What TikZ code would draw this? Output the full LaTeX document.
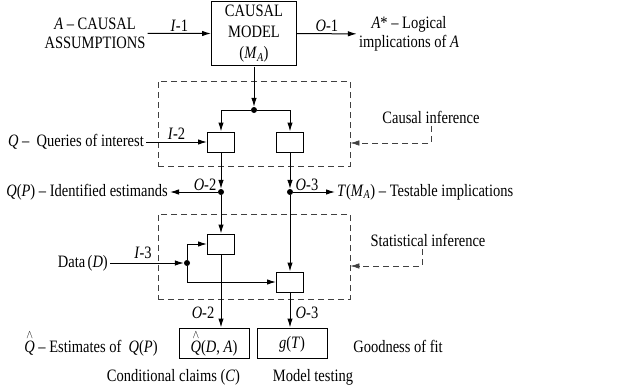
\documentclass[tikz,border=0pt]{standalone}
\usepackage{fontspec}
\setmainfont{Liberation Serif}
\usetikzlibrary{arrows.meta, positioning, calc}
\newcommand{\iv}[1]{\textit{#1}}
\newcommand{\qhat}{$\stackrel{\wedge}{\mbox{\textit{Q}}}$}
\tikzset{
  blk/.style   = {draw, line width=1pt, minimum width=27pt, minimum height=20pt, inner sep=0pt},
  obox/.style  = {draw, line width=1pt, minimum width=70pt, minimum height=30pt, inner sep=0pt},
  dbox/.style  = {draw=black!75, dash pattern=on 6pt off 4pt, line width=0.7pt, minimum width=192pt,
                  minimum height=85pt, inner sep=0pt},
  dot/.style   = {circle, fill, inner sep=0pt, minimum size=6pt},
  arr/.style   = {-{Latex[length=9pt,width=5.5pt]}, line width=1pt},
  darr/.style  = {-{Latex[length=9pt,width=5.5pt]}, draw=black!75,
                  dash pattern=on 6pt off 4pt, line width=0.7pt},
  tx/.style    = {yscale=1.2},
  io/.style    = {inner sep=1.5pt, yscale=1.2},
}

\begin{document}
\begin{tikzpicture}[x=1pt, y=-1pt, every node/.style={font=\fontsize{14.5}{19}\selectfont, inner sep=2pt}]
  \useasboundingbox (0,0) rectangle (640,388);
  % top row
  \node[draw, line width=1pt, minimum width=85pt, minimum height=54pt, align=center, tx,
        font=\fontsize{14.5}{17.5}\selectfont] (model) at (254,33.5) {CAUSAL\\MODEL\\(\iv{M}\textsubscript{\iv{A}})};
  \node[align=center, tx, font=\fontsize{14.5}{16}\selectfont] (assump) at (95,33.5) {\iv{A} -- CAUSAL\\ASSUMPTIONS};
  \node[align=center, tx, font=\fontsize{14.5}{16}\selectfont] (impl) at (409,34) {\iv{A}* -- Logical\\implications of \iv{A}};
  \draw[arr] (assump) -- node[above, io] {\iv{I}-1} (model);
  \draw[arr] (model) -- node[above, io] {\iv{O}-1} (impl);

  % causal inference
  \node[dbox] (ci) at (254,123.5) {};
  \node[dot] (d0) at (254,110) {};
  \node[blk] (c1) at (221,142) {};
  \node[blk] (c2) at (290,142) {};
  \draw[arr] (model) -- (d0);
  \draw[arr] (d0) -| (c1);
  \draw[arr] (d0) -| (c2);
  \node[anchor=east, tx] (queries) at (146,142) {\iv{Q} --\ \ Queries of interest};
  \draw[arr] (queries) -- node[above, io] {\iv{I}-2} (c1);
  \node[tx] (cinf) at (431,117) {Causal inference};
  \draw[darr] (cinf.south) |- ([yshift=-19.5pt]ci.east);

  % outputs of first stage
  \node[dot] (e1) at (221,192) {};
  \node[dot] (e2) at (290,192) {};
  \draw[arr] (c1) -- (e1);
  \draw[arr] (c2) -- (e2);
  \node[anchor=east, tx] (estim) at (170,192) {\iv{Q}(\iv{P}) -- Identified estimands};
  \node[anchor=west, tx] (testable) at (335,192) {\iv{T}(\iv{M}\textsubscript{\iv{A}}) -- Testable implications};
  \draw[arr] (e1) -- (estim);
  \draw[arr] (e2) -- (testable);
  \node[anchor=base east, io] (lo2) at (218,190) {\iv{O}-2};
  \node[anchor=base west, io] (lo3) at (294,190) {\iv{O}-3};

  % statistical inference
  \node[dbox] (si) at (254,256.5) {};
  \node[blk] (s1) at (221,244) {};
  \node[blk] (s2) at (290,282) {};
  \node[dot] (d3) at (187,263) {};
  \draw[arr] (e1) -- (s1);
  \draw[arr] (e2) -- (s2);
  \node[anchor=east, tx] (data) at (110,263) {Data\,(\iv{D})};
  \draw[arr] (data) -- (d3);
  \node[anchor=base, io] (li3) at (143,258) {\iv{I}-3};
  \draw[arr] (d3) |- (s1);
  \draw[arr] (d3) |- (s2);
  \node[tx] (sinf) at (428,240) {Statistical inference};
  \draw[darr] ([xshift=-6pt]sinf.south) |- ([yshift=-9.5pt]si.east);

  % results
  \node[obox] (qbox) at (214,343) {};
  \node[tx] (qtxt) at (214,343) {\qhat(\iv{D}, \iv{A})};
  \node[obox] (gbox) at (292,343) {};
  \node[tx] (gtxt) at (292,344) {\iv{g}(\iv{T})};
  \draw[arr] (s1) -- (s1 |- qbox.north);
  \draw[arr] (s2) -- (s2 |- gbox.north);
  \node[anchor=base east, io] (mo2) at (216,318) {\iv{O}-2};
  \node[anchor=base west, io] (mo3) at (294,318) {\iv{O}-3};
  \node[anchor=base, tx] (estq) at (91,352) {\qhat\ -- Estimates of \ \iv{Q}(\iv{P})};
  \node[anchor=base, tx] (gof) at (398,352) {Goodness of fit};
  \node[anchor=base, tx] (cond) at (173.5,381) {Conditional claims (\iv{C})};
  \node[anchor=base, tx] (mtest) at (313,381) {Model testing};
\end{tikzpicture}
\end{document}
